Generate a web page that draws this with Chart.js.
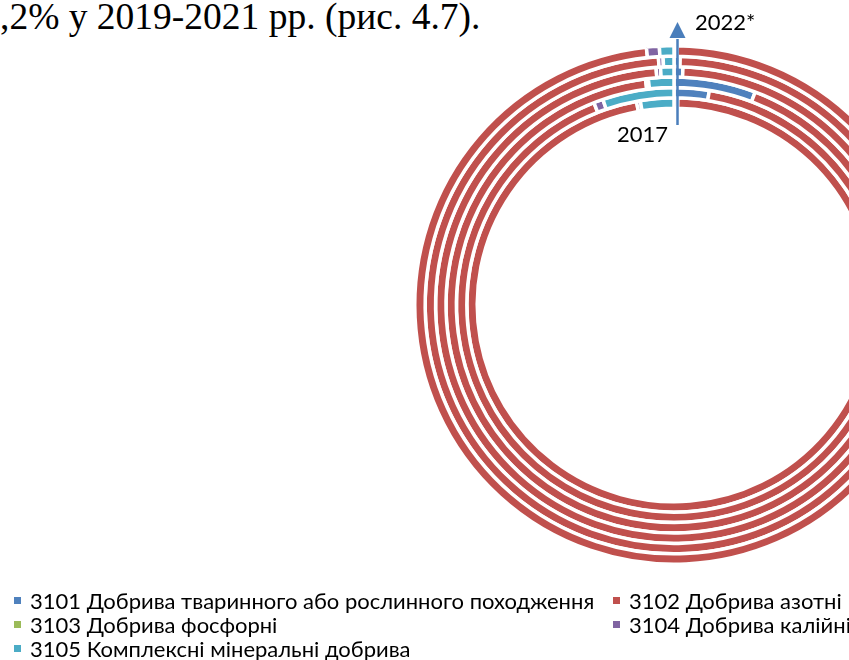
<!DOCTYPE html>
<html lang="uk">
<head>
<meta charset="utf-8">
<script src="https://cdn.jsdelivr.net/npm/chart.js@4.4.1/dist/chart.umd.min.js"></script>
<style>
  html, body { margin: 0; padding: 0; width: 849px; height: 660px; overflow: hidden; background: #fff; }
  #wrap { position: absolute; left: 0; top: 0; width: 940px; height: 660px; }
  #lead { position: absolute; left: 0; top: -2px; font-family: 'Liberation Serif', 'Times New Roman', serif;
          font-size: 37.5px; line-height: 37px; white-space: nowrap; color: #000; }
  #legend { position: absolute; left: 0; top: 0; width: 849px; height: 660px; pointer-events: none;
            font-family: Lato, 'Open Sans', sans-serif; font-size: 22px; color: #000; }
  .item { position: absolute; height: 24px; display: flex; align-items: center; white-space: nowrap; }
  .box { width: 7px; height: 7px; margin-right: 9px; flex: none; }
</style>
</head>
<body>
<div id="lead">,2% у 2019-2021 рр. (рис. 4.7).</div>
<div id="wrap"><canvas id="rings"></canvas></div>
<div id="legend"></div>
<script>
// Years, innermost ring first
const years = ['2017', '2018', '2019', '2020', '2021', '2022*'];

// Product groups (UKTZED 3101–3105)
const groups = [
  '3101 Добрива тваринного або рослинного походження',
  '3102 Добрива азотні',
  '3103 Добрива фосфорні',
  '3104 Добрива калійні',
  '3105 Комплексні мінеральні добрива'
];

// Share of each group per year, %
const share3101 = [0.3, 2.6, 5.8, 0.6, 0.4, 0.2];
const share3102 = [96.8, 91.4, 92.2, 98.2, 98.6, 98.1];
const share3103 = [0, 0, 0, 0, 0, 0];
const share3104 = [0.3, 0.7, 0.2, 0.3, 0.3, 0.8];
const share3105 = [2.6, 5.3, 1.8, 0.9, 0.7, 0.9];

const colours = ['#4f81bd', '#c0504d', '#9bbb59', '#8064a2', '#4bacc6'];
const series = [share3101, share3102, share3103, share3104, share3105];

// Chart.js puts the first dataset on the outside, so the latest year goes first
const datasets = [];
for (let i = years.length - 1; i >= 0; i--) {
  datasets.push({
    label: years[i],
    data: series.map(s => s[i]),
    backgroundColor: colours,
    borderColor: '#ffffff',
    borderWidth: 3.5,
    hoverBorderWidth: 3.5,
    hoverOffset: 0,
    offset: 0
  });
}

// Direction arrow with the first and last year labels
const yearMarks = {
  id: 'yearMarks',
  afterDraw(chart) {
    const arc = chart.getDatasetMeta(0).data[0];
    const cx = arc.x, cy = arc.y;
    const ctx = chart.ctx;
    const ax = cx + 3.5;
    ctx.save();
    ctx.strokeStyle = '#4a7ebb';
    ctx.fillStyle = '#4a7ebb';
    ctx.lineWidth = 2.5;
    ctx.beginPath();
    ctx.moveTo(ax, cy - 180);
    ctx.lineTo(ax, cy - 266);
    ctx.stroke();
    ctx.beginPath();
    ctx.moveTo(ax, cy - 283);
    ctx.lineTo(ax + 8, cy - 267);
    ctx.lineTo(ax - 8, cy - 267);
    ctx.closePath();
    ctx.fill();
    ctx.fillStyle = '#000';
    ctx.font = '22px Lato, "Open Sans", sans-serif';
    ctx.textBaseline = 'alphabetic';
    ctx.textAlign = 'left';
    ctx.fillText(years[years.length - 1], ax + 17.5, cy - 275);
    ctx.textAlign = 'right';
    ctx.fillText(years[0], ax - 9.5, cy - 163);
    ctx.restore();
  }
};

new Chart(document.getElementById('rings'), {
  type: 'doughnut',
  data: { labels: groups, datasets },
  options: {
    responsive: true,
    maintainAspectRatio: false,
    animation: false,
    events: [],
    rotation: 0,
    cutout: '75.9%',
    layout: { padding: { left: 413, top: 44, right: 5, bottom: 94 } },
    plugins: { legend: { display: false }, tooltip: { enabled: false } }
  },
  plugins: [yearMarks]
});

// Legend: two columns, three rows
const legendSlots = [[14, 588], [613, 588], [14, 612], [613, 612], [14, 636]];
const legend = document.getElementById('legend');
groups.forEach((g, i) => {
  const item = document.createElement('div');
  item.className = 'item';
  item.style.left = legendSlots[i][0] + 'px';
  item.style.top = legendSlots[i][1] + 'px';
  const box = document.createElement('span');
  box.className = 'box';
  box.style.background = colours[i];
  const txt = document.createElement('span');
  txt.textContent = g;
  item.appendChild(box);
  item.appendChild(txt);
  legend.appendChild(item);
});
</script>
</body>
</html>
